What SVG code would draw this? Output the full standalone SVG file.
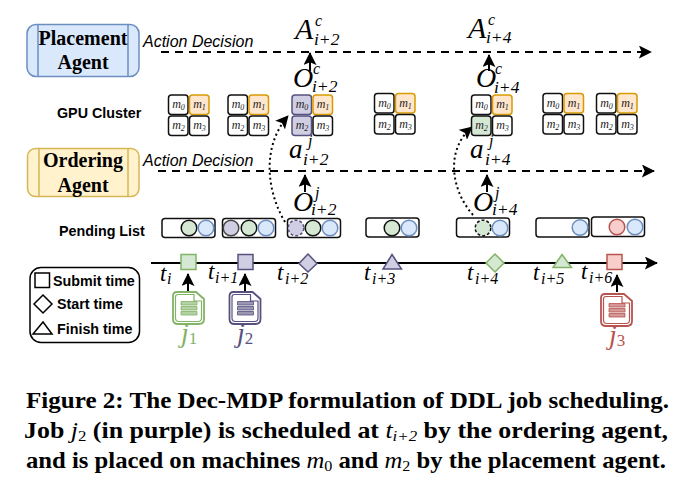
<svg xmlns="http://www.w3.org/2000/svg" width="687" height="486" viewBox="0 0 687 486">
<style>
text{font-family:"Liberation Sans",Arial,sans-serif;fill:#000}
.agent{font-family:"Liberation Serif","Times New Roman",serif;font-weight:bold;font-size:20px;text-anchor:middle}
.lab{font-weight:bold;font-size:14.300px}
.act{font-style:italic;font-size:16px}
.m,.big,.sub,.sup,.t,.ts,.jl{font-family:"Liberation Serif","Times New Roman",serif;font-style:italic}
.big{font-size:28px}.sub{font-size:17.500px}.sup{font-size:16px}
.bigA{font-size:30px}.biga{font-size:27px}
.t{font-size:23px}.ts{font-size:16px}
.jl{font-size:28px}.js{font-size:17px;font-style:normal}
.m{font-size:12px;text-anchor:middle;fill:#222}
.ms{font-size:8px}
.cell{fill:#fff;stroke:#111;stroke-width:1.500}
.c1{fill:#ffe6cc;stroke:#d79b00}
.cp{fill:#d0cee2;stroke:#56517e}
.cg{fill:#d5e8d4;stroke:#111}
.box{fill:#fff;stroke:#111;stroke-width:1.500}
.pu{fill:#d0cee2;stroke:#56517e;stroke-width:1.500}
.gr{fill:#d5e8d4;stroke:#82b366;stroke-width:1.500}
.re{fill:#f8cecc;stroke:#b85450;stroke-width:1.500}
.grk{fill:#d5e8d4;stroke:#111;stroke-width:1.500}
.bl{fill:#dae8fc;stroke:#6c8ebf;stroke-width:1.500}
.reb{fill:#f8cecc;stroke:#b85450;stroke-width:1.500}
.dash{fill:none;stroke:#000;stroke-width:2;stroke-dasharray:8 6}
.dot{fill:none;stroke:#000;stroke-width:2;stroke-dasharray:2 3}
.solid{fill:none;stroke:#000;stroke-width:2}
.cap{font-family:"Liberation Serif","Times New Roman",serif;font-weight:bold;font-size:23px}
.capi{font-weight:normal;font-style:italic}
.capr{font-weight:normal}
.leg{fill:#fff;stroke:#000;stroke-width:1.500}
</style>
<defs>
<marker id="ahb" viewBox="0 0 14 14" refX="13" refY="7" markerWidth="13" markerHeight="13" markerUnits="userSpaceOnUse" orient="auto"><path d="M0 0L14 7L0 14L3 7Z" fill="#000"/></marker>
<symbol id="doc" viewBox="0 0 33 34" width="33" height="34" overflow="visible">
<path d="M5 1H24L32 8V28Q32 33 27 33H6Q1 33 1 28V5Q1 1 5 1Z" fill="#fff" stroke="currentColor" stroke-width="1.800"/>
<path d="M6 3.500H22V10H29.500V27Q29.500 30.500 26 30.500H7Q3.500 30.500 3.500 27V6Q3.500 3.500 6 3.500Z" fill="#fff" stroke="currentColor" stroke-width="1.200"/>
<path d="M9 10.500H25V14H9ZM9 15.500H25V19H9ZM9 20.500H25V24H9Z" fill="currentColor" fill-opacity=".6" stroke="currentColor" stroke-width=".8"/>
</symbol>
</defs>

<g id="placement-agent">
<rect x="27" y="24.500" width="112" height="52" rx="9" fill="#dae8fc" stroke="#6c8ebf" stroke-width="1.500"/>
<path d="M38 24.500V76.500M128 24.500V76.500" stroke="#6c8ebf" stroke-width="1.500"/>
<text class="agent" x="83" y="45">Placement</text>
<text class="agent" x="83" y="69">Agent</text>
</g>
<g id="ordering-agent">
<rect x="27.500" y="148.500" width="111.500" height="48" rx="8" fill="#fff2cc" stroke="#d6b656" stroke-width="1.500"/>
<path d="M39 148.500V196.500M128 148.500V196.500" stroke="#d6b656" stroke-width="1.500"/>
<text class="agent" x="83" y="167">Ordering</text>
<text class="agent" x="83" y="192">Agent</text>
</g>
<g id="labels">
<text class="act" x="143" y="47">Action Decision</text>
<text class="act" x="143" y="166">Action Decision</text>
<text class="lab" x="57" y="118">GPU Cluster</text>
<text class="lab" x="59" y="236">Pending List</text>
</g>

<g id="connectors">
<path class="dash" d="M161 52H651" marker-end="url(#ahb)"/>
<path class="dash" d="M158 171H654" marker-end="url(#ahb)"/>
<path class="dot" d="M285 222C266 190 262 146 288 116" marker-end="url(#ahb)"/>
<path class="dot" d="M473 215C451 190 445 150 472 127" marker-end="url(#ahb)"/>
<path class="solid" d="M310 71V53" marker-end="url(#ahb)"/>
<path class="solid" d="M305 192V175" marker-end="url(#ahb)"/>
<path class="solid" d="M489 71V55" marker-end="url(#ahb)"/>
<path class="solid" d="M487 192V175" marker-end="url(#ahb)"/>
<path class="solid" d="M151 263H657" marker-end="url(#ahb)"/>
<path class="solid" d="M188 291V274" marker-end="url(#ahb)"/>
<path class="solid" d="M245 291V274" marker-end="url(#ahb)"/>
<path class="solid" d="M617 292V275" marker-end="url(#ahb)"/>
</g>

<g id="math">
<text class="big bigA" x="295" y="39">A</text><text class="sup" x="315" y="26">c</text><text class="sub" x="314" y="45">i+2</text>
<text class="big" x="293" y="87">O</text><text class="sup" x="313" y="74">c</text><text class="sub" x="312" y="92">i+2</text>
<text class="big biga" x="289" y="158">a</text><text class="sup" x="308" y="146">j</text><text class="sub" x="303" y="165">i+2</text>
<text class="big" x="293" y="211">O</text><text class="sup" x="315" y="198">j</text><text class="sub" x="311" y="215">i+2</text>
<text class="big bigA" x="468" y="38">A</text><text class="sup" x="488" y="25">c</text><text class="sub" x="486" y="43">i+4</text>
<text class="big" x="476" y="87">O</text><text class="sup" x="495" y="74">c</text><text class="sub" x="494" y="93">i+4</text>
<text class="big biga" x="470" y="158">a</text><text class="sup" x="489" y="146">j</text><text class="sub" x="485" y="165">i+4</text>
<text class="big" x="473" y="211">O</text><text class="sup" x="495" y="198">j</text><text class="sub" x="492" y="215">i+4</text>
</g>

<g id="cluster-1" transform="translate(168.500 95)">
<rect class="cell" width="19.500" height="19.500" rx="3"/><rect class="cell c1" x="21" width="19.500" height="19.500" rx="3"/><rect class="cell" y="21" width="19.500" height="19.500" rx="3"/><rect class="cell" x="21" y="21" width="19.500" height="19.500" rx="3"/>
<text class="m" x="10" y="13">m<tspan class="ms" dy="2">0</tspan></text><text class="m" x="31" y="13">m<tspan class="ms" dy="2">1</tspan></text><text class="m" x="10" y="34">m<tspan class="ms" dy="2">2</tspan></text><text class="m" x="31" y="34">m<tspan class="ms" dy="2">3</tspan></text>
</g>
<g id="cluster-2" transform="translate(228 95)">
<rect class="cell" width="19.500" height="19.500" rx="3"/><rect class="cell c1" x="21" width="19.500" height="19.500" rx="3"/><rect class="cell" y="21" width="19.500" height="19.500" rx="3"/><rect class="cell" x="21" y="21" width="19.500" height="19.500" rx="3"/>
<text class="m" x="10" y="13">m<tspan class="ms" dy="2">0</tspan></text><text class="m" x="31" y="13">m<tspan class="ms" dy="2">1</tspan></text><text class="m" x="10" y="34">m<tspan class="ms" dy="2">2</tspan></text><text class="m" x="31" y="34">m<tspan class="ms" dy="2">3</tspan></text>
</g>
<g id="cluster-3" transform="translate(292 95)">
<rect class="cell cp" width="19.500" height="19.500" rx="3"/><rect class="cell c1" x="21" width="19.500" height="19.500" rx="3"/><rect class="cell cp" y="21" width="19.500" height="19.500" rx="3"/><rect class="cell" x="21" y="21" width="19.500" height="19.500" rx="3"/>
<text class="m" x="10" y="13">m<tspan class="ms" dy="2">0</tspan></text><text class="m" x="31" y="13">m<tspan class="ms" dy="2">1</tspan></text><text class="m" x="10" y="34">m<tspan class="ms" dy="2">2</tspan></text><text class="m" x="31" y="34">m<tspan class="ms" dy="2">3</tspan></text>
</g>
<g id="cluster-4" transform="translate(374.500 93.500)">
<rect class="cell" width="19.500" height="19.500" rx="3"/><rect class="cell c1" x="21" width="19.500" height="19.500" rx="3"/><rect class="cell" y="21" width="19.500" height="19.500" rx="3"/><rect class="cell" x="21" y="21" width="19.500" height="19.500" rx="3"/>
<text class="m" x="10" y="13">m<tspan class="ms" dy="2">0</tspan></text><text class="m" x="31" y="13">m<tspan class="ms" dy="2">1</tspan></text><text class="m" x="10" y="34">m<tspan class="ms" dy="2">2</tspan></text><text class="m" x="31" y="34">m<tspan class="ms" dy="2">3</tspan></text>
</g>
<g id="cluster-5" transform="translate(471.500 95)">
<rect class="cell" width="19.500" height="19.500" rx="3"/><rect class="cell c1" x="21" width="19.500" height="19.500" rx="3"/><rect class="cell cg" y="21" width="19.500" height="19.500" rx="3"/><rect class="cell" x="21" y="21" width="19.500" height="19.500" rx="3"/>
<text class="m" x="10" y="13">m<tspan class="ms" dy="2">0</tspan></text><text class="m" x="31" y="13">m<tspan class="ms" dy="2">1</tspan></text><text class="m" x="10" y="34">m<tspan class="ms" dy="2">2</tspan></text><text class="m" x="31" y="34">m<tspan class="ms" dy="2">3</tspan></text>
</g>
<g id="cluster-6" transform="translate(543 93.500)">
<rect class="cell" width="19.500" height="19.500" rx="3"/><rect class="cell c1" x="21" width="19.500" height="19.500" rx="3"/><rect class="cell" y="21" width="19.500" height="19.500" rx="3"/><rect class="cell" x="21" y="21" width="19.500" height="19.500" rx="3"/>
<text class="m" x="10" y="13">m<tspan class="ms" dy="2">0</tspan></text><text class="m" x="31" y="13">m<tspan class="ms" dy="2">1</tspan></text><text class="m" x="10" y="34">m<tspan class="ms" dy="2">2</tspan></text><text class="m" x="31" y="34">m<tspan class="ms" dy="2">3</tspan></text>
</g>
<g id="cluster-7" transform="translate(596.500 93.500)">
<rect class="cell" width="19.500" height="19.500" rx="3"/><rect class="cell c1" x="21" width="19.500" height="19.500" rx="3"/><rect class="cell" y="21" width="19.500" height="19.500" rx="3"/><rect class="cell" x="21" y="21" width="19.500" height="19.500" rx="3"/>
<text class="m" x="10" y="13">m<tspan class="ms" dy="2">0</tspan></text><text class="m" x="31" y="13">m<tspan class="ms" dy="2">1</tspan></text><text class="m" x="10" y="34">m<tspan class="ms" dy="2">2</tspan></text><text class="m" x="31" y="34">m<tspan class="ms" dy="2">3</tspan></text>
</g>

<g id="pending-1"><rect class="box" x="162" y="218.500" width="53" height="19" rx="3"/><circle class="grk" cx="189" cy="228" r="7.800"/><circle class="bl" cx="206" cy="228" r="7.800"/></g>
<g id="pending-2"><rect class="box" x="222.500" y="218.500" width="53" height="19" rx="3"/><circle class="pu" cx="231" cy="228" r="7.800" style="stroke:#444"/><circle class="grk" cx="249" cy="228" r="7.800"/><circle class="bl" cx="266" cy="228" r="7.800"/></g>
<g id="pending-3"><rect class="box" x="287.500" y="218.500" width="53" height="19" rx="3"/><circle class="pu" cx="296" cy="228" r="7.800" stroke-dasharray="3 2"/><circle class="grk" cx="313" cy="228" r="7.800"/><circle class="bl" cx="330" cy="228" r="7.800"/></g>
<g id="pending-4"><rect class="box" x="366" y="218" width="53" height="19" rx="3"/><circle class="grk" cx="392" cy="228" r="7.800"/><circle class="bl" cx="409" cy="228" r="7.800"/></g>
<g id="pending-5"><rect class="box" x="456.500" y="218" width="53" height="19" rx="3"/><circle class="grk" cx="483" cy="228" r="7.800" stroke-dasharray="3 2"/><circle class="bl" cx="500" cy="228" r="7.800"/></g>
<g id="pending-6"><rect class="box" x="536" y="218" width="53" height="19" rx="3"/><circle class="bl" cx="580" cy="227.500" r="7.800"/></g>
<g id="pending-7"><rect class="box" x="591.500" y="217" width="53" height="19.500" rx="3"/><circle class="reb" cx="617" cy="227" r="7.800"/><circle class="bl" cx="635" cy="227" r="7.800"/></g>

<g id="timeline-markers">
<rect class="gr" x="181" y="254.500" width="15" height="15"/>
<rect class="pu" x="238" y="254.500" width="15" height="15"/>
<path class="pu" d="M308 254L317 263.500L308 272L299 263.500Z"/>
<path class="pu" d="M392 254.500L401.500 269H383Z"/>
<path class="gr" d="M495 254L504 263L495 272L486 263Z"/>
<path class="gr" d="M562 254.500L571.500 267.500H553Z"/>
<rect class="re" x="607" y="254.500" width="15" height="15"/>
</g>
<g id="time-labels">
<text class="t" x="160" y="281">t</text><text class="ts" x="167" y="284">i</text>
<text class="t" x="208" y="279">t</text><text class="ts" x="215" y="283">i+1</text>
<text class="t" x="277" y="280">t</text><text class="ts" x="285" y="284">i+2</text>
<text class="t" x="364" y="280">t</text><text class="ts" x="372" y="284">i+3</text>
<text class="t" x="467" y="280">t</text><text class="ts" x="475" y="284">i+4</text>
<text class="t" x="533" y="280">t</text><text class="ts" x="541" y="284">i+5</text>
<text class="t" x="581" y="279">t</text><text class="ts" x="589" y="283">i+6</text>
</g>

<g id="job-1" color="#82b366"><use href="#doc" x="172" y="291"/><text class="jl" x="181" y="342" style="fill:#82b366">j<tspan class="js" dy="2" style="fill:#82b366">1</tspan></text></g>
<g id="job-2" color="#56517e"><use href="#doc" x="228.500" y="291"/><text class="jl" x="237" y="342" style="fill:#56517e">j<tspan class="js" dy="2" style="fill:#56517e">2</tspan></text></g>
<g id="job-3" color="#b85450"><use href="#doc" x="600" y="293"/><text class="jl" x="609" y="344" style="fill:#b85450">j<tspan class="js" dy="2" style="fill:#b85450">3</tspan></text></g>

<g id="legend">
<rect x="30" y="267.500" width="109.500" height="75" rx="11" fill="#fff" stroke="#000" stroke-width="1.500"/>
<rect class="leg" x="35" y="273" width="14.500" height="14.500"/>
<path class="leg" d="M43 295L52 304L43 313L34 304Z"/>
<path class="leg" d="M43 322L52 334H33Z"/>
<text class="lab" x="53" y="286">Submit time</text>
<text class="lab" x="57" y="309">Start time</text>
<text class="lab" x="57" y="334">Finish time</text>
</g>

<g id="caption">
<text class="cap" x="26" y="408" textLength="643" lengthAdjust="spacingAndGlyphs">Figure 2: The Dec-MDP formulation of DDL job scheduling.</text>
<text class="cap" x="24" y="438" textLength="644" lengthAdjust="spacingAndGlyphs">Job <tspan class="capi">j</tspan><tspan class="capr" font-size="15" dy="3">2</tspan><tspan dy="-3"> (in purple) is scheduled at </tspan><tspan class="capi">t</tspan><tspan class="capi" font-size="15" dy="3">i+2</tspan><tspan dy="-3"> by the ordering agent,</tspan></text>
<text class="cap" x="26" y="468" textLength="640" lengthAdjust="spacingAndGlyphs">and is placed on machines <tspan class="capi">m</tspan><tspan class="capr" font-size="15" dy="3">0</tspan><tspan dy="-3"> and </tspan><tspan class="capi">m</tspan><tspan class="capr" font-size="15" dy="3">2</tspan><tspan dy="-3"> by the placement agent.</tspan></text>
</g>
</svg>
